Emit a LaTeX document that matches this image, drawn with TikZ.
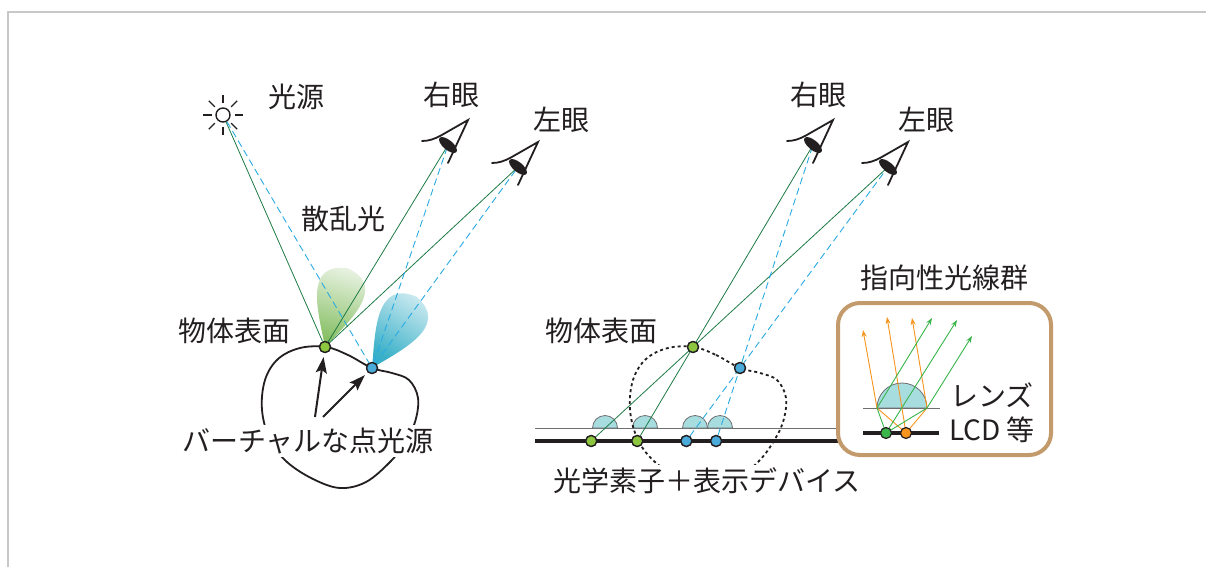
\documentclass[tikz,border=0pt]{standalone}
\usepackage{fontspec}
\newfontfamily\cjk{Noto Sans CJK JP}
\usetikzlibrary{arrows.meta}

\definecolor{ink}{HTML}{231F20}
\definecolor{raygreen}{HTML}{1E7B45}
\definecolor{rayblue}{HTML}{29ABE2}
\definecolor{dotgreen}{HTML}{8DC63F}
\definecolor{dotblue}{HTML}{4AAAD9}
\definecolor{lensfill}{HTML}{A8DDE0}
\definecolor{lensedge}{HTML}{6D6E71}
\definecolor{framegray}{HTML}{C8C8C8}
\definecolor{boxtan}{HTML}{C39A6B}
\definecolor{arrorange}{HTML}{F7941D}
\definecolor{arrgreen}{HTML}{39B54A}
\definecolor{lobegreen}{RGB}{128,188,92}
\definecolor{lobegreenhi}{RGB}{242,247,238}
\definecolor{lobeblue}{RGB}{58,176,200}
\definecolor{lobebluehi}{RGB}{238,248,250}

\tikzset{
  eyepic/.pic={
    \draw[ink, line width=1.8pt, line cap=round, line join=miter]
      (-26,-4) .. controls (-19,-4) and (-14,-6) .. (-8,-9) -- (20,-25) -- (0,18);
    \fill[ink, rotate=-40] (0,0) ellipse [x radius=11pt, y radius=4.8pt];
  },
  lbl/.style={font=\cjk\fontsize{28}{32}\selectfont, text=ink, inner sep=2pt},
  dotg/.style={circle, draw=ink, line width=1.3pt, fill=dotgreen, minimum size=11pt, inner sep=0pt},
  dotb/.style={dotg, fill=dotblue},
  greenray/.style={raygreen, line width=0.8pt},
  blueray/.style={rayblue, line width=0.9pt, dash pattern=on 7pt off 4pt},
  lensshape/.style={draw=lensedge, line width=0.8pt, fill=lensfill},
  orangearr/.style={arrorange, line width=0.9pt, -{Stealth[length=7pt,width=5pt]}},
  greenarr/.style={arrgreen, line width=0.9pt, -{Stealth[length=7pt,width=5pt]}},
  pointer/.style={ink, line width=2pt, shorten >=4pt, -{Stealth[length=16pt,width=11pt,inset=3pt]}},
}

\def\blobpath{plot[smooth cycle, tension=0.6] coordinates {
  (326,347) (348,355) (372,368) (392,373) (409,380) (418,398) (415,422)
  (404,444) (390,462) (366,482) (340,488) (313,479) (287,462) (270,440)
  (262,410) (265,380) (278,359) (300,348)}}

\begin{document}
\begin{tikzpicture}[x=1pt, y=-1pt]
\useasboundingbox (0,0) rectangle (1206,567);
\fill[white] (0,0) rectangle (1206,567);

% frame
\draw[framegray, line width=2pt] (8,567) -- (8,12) -- (1206,12);

% ---------- left: real light source ----------
% scattering lobes
\shade[bottom color=lobegreen, top color=lobegreenhi, shading angle=-16]
  [shift={(325,347)}, rotate=-16]
  (0,0) .. controls (-15,-30) and (-45,-75) .. (0,-82) .. controls (45,-75) and (15,-30) .. (0,0);
\shade[bottom color=lobeblue, top color=lobebluehi, shading angle=-32]
  [shift={(372,368)}, rotate=-32]
  (0,0) .. controls (-15,-30) and (-45,-77) .. (0,-84) .. controls (45,-77) and (15,-30) .. (0,0);

% sun
\node[circle, draw=ink, line width=1.4pt, minimum size=14pt, inner sep=0pt] (sun) at (223,115) {};
\foreach \a in {0,45,...,315}
  \draw[ink, line width=1.4pt, shift={(223,115)}] (\a:11.5) -- (\a:20);

% surface points
\node[dotg] (gL) at (325,347) {};
\node[dotb] (bL) at (372,368) {};

% eyes
\coordinate (eRa) at (448,145);
\coordinate (eLa) at (518,167);
\coordinate (eRb) at (813,145);
\coordinate (eLb) at (888,167);

% rays
\draw[greenray] (sun) -- (gL);
\draw[blueray] (sun) -- (bL);
\draw[greenray] (gL) -- (eRa);
\draw[greenray] (gL) -- (eLa);
\draw[blueray] (bL) -- (eRa);
\draw[blueray] (bL) -- (eLa);

\pic at (eRa) {eyepic};
\pic at (eLa) {eyepic};

% object outline
\draw[ink, line width=1.8pt] \blobpath;
\node[dotg] at (gL) {};
\node[dotb] at (bL) {};

% virtual point sources
\coordinate (tailA) at (315,417);
\coordinate (tailB) at (323,417);
\draw[pointer] (tailA) -- (gL);
\draw[pointer] (tailB) -- (bL);

\node[lbl] (tSun) at (296,97) {光源};
\node[lbl] (tRa) at (451,95) {右眼};
\node[lbl] (tLa) at (561,120) {左眼};
\node[lbl] (tScat) at (343,219) {散乱光};
\node[lbl] (tSurfA) at (234,331) {物体表面};
\node[lbl, fill=white, inner sep=3pt] (tVirt) at (308,441) {バーチャルな点光源};

% ---------- right: light field display ----------
\draw[lensedge, line width=1pt] (535,428) -- (838,428);
\foreach \cx in {605,645,695,720}
  \draw[lensshape] (\cx-12.5,428) arc[start angle=180, end angle=0, radius=12.5pt] -- cycle;
\draw[ink, line width=4.5pt] (535,441) -- (838,441);

\node[dotg] (gS) at (693,347) {};
\node[dotb] (bS) at (740,368) {};
\node[dotg] (d1) at (591.2,441) {};
\node[dotg] (d2) at (637.2,441) {};
\node[dotb] (d3) at (686.3,441) {};
\node[dotb] (d4) at (716.1,441) {};

\draw[greenray] (d1) -- (eLb);
\draw[greenray] (d2) -- (eRb);
\draw[blueray] (d3) -- (eLb);
\draw[blueray] (d4) -- (eRb);

\pic at (eRb) {eyepic};
\pic at (eLb) {eyepic};

\begin{scope}[shift={(368,0)}]
  \draw[ink, line width=1.8pt, dash pattern=on 3pt off 3pt] \blobpath;
\end{scope}

\node[dotg] at (gS) {};
\node[dotb] at (bS) {};
\node[dotg] at (d1) {};
\node[dotg] at (d2) {};
\node[dotb] at (d3) {};
\node[dotb] at (d4) {};

\node[lbl] (tRb) at (818,95) {右眼};
\node[lbl] (tLb) at (926,120) {左眼};
\node[lbl] (tSurfB) at (601,331) {物体表面};
\node[lbl, fill=white, inner sep=3pt] (tDev) at (707,481) {光学素子＋表示デバイス};

% ---------- inset: directional rays ----------
\node[draw=boxtan, line width=4pt, rounded corners=22pt, minimum width=213pt,
      minimum height=152pt, fill=white] (inset) at (944.5,379) {};
\node[lbl] (tDir) at (944,278) {指向性光線群};

\coordinate (lensL) at (877,408);
\coordinate (lensR) at (927,408);
\coordinate (og) at (906,433);
\coordinate (gg) at (886,433);

\draw[lensshape] (lensL) arc[start angle=180, end angle=0, radius=25pt] -- cycle;
\draw[lensedge, line width=1pt] (863,408) -- (940,408);

\draw[arrorange, line width=0.9pt] (og) -- (lensL);
\draw[arrorange, line width=0.9pt] (og) -- (lensR);
\draw[orangearr] (lensL) -- (863,330);
\draw[orangearr] (og) -- (887,317);
\draw[orangearr] (lensR) -- (912,318);
\draw[arrgreen, line width=0.9pt] (gg) -- (lensL);
\draw[arrgreen, line width=0.9pt] (gg) -- (lensR);
\draw[greenarr] (lensL) -- (932,318);
\draw[greenarr] (gg) -- (957,320);
\draw[greenarr] (lensR) -- (972,336);

\draw[ink, line width=4pt] (863,433) -- (939,433);
\node[circle, draw=ink, line width=1.2pt, fill=arrgreen, minimum size=11pt, inner sep=0pt] (pg) at (gg) {};
\node[circle, draw=ink, line width=1.2pt, fill=arrorange, minimum size=11pt, inner sep=0pt] (po) at (og) {};

\node[lbl] (tLens) at (992,395) {レンズ};
\node[lbl] (tLCD) at (992,430) {LCD 等};
\end{tikzpicture}
\end{document}
